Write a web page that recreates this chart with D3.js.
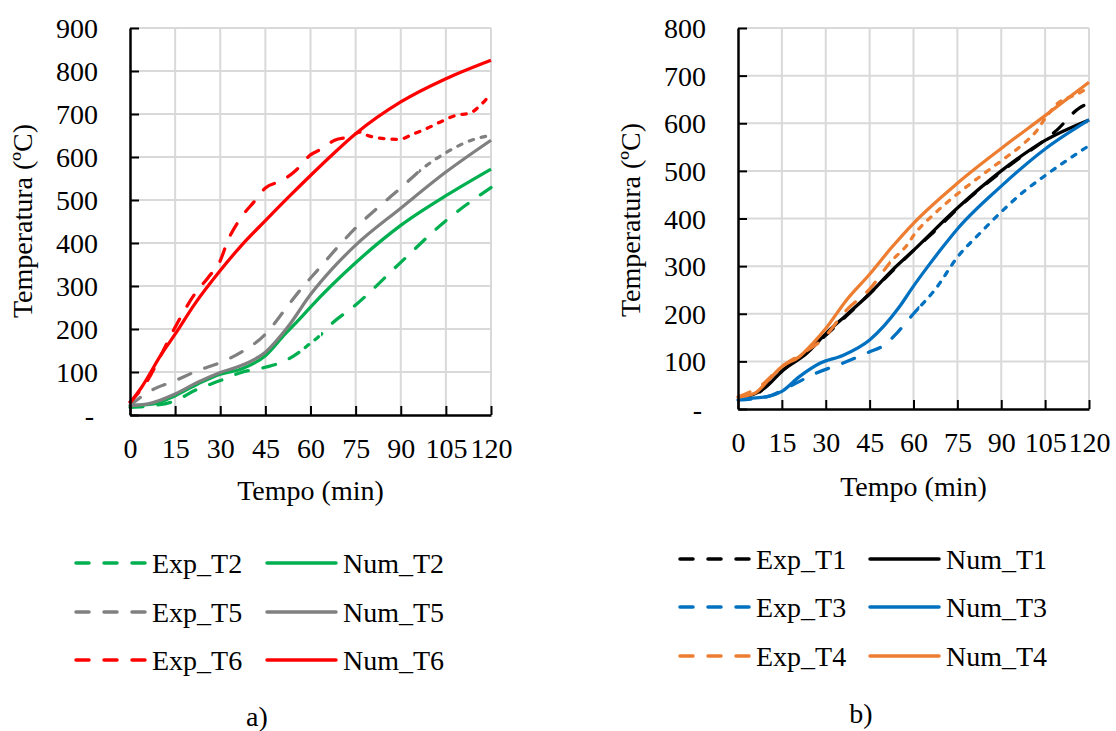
<!DOCTYPE html>
<html>
<head>
<meta charset="utf-8">
<script src="https://cdn.jsdelivr.net/npm/d3@7"></script>
<style>
  html, body { margin: 0; padding: 0; background: #fff; }
  svg { display: block; }
  text { font-family: "Liberation Serif", "Times New Roman", serif; fill: #000; }
</style>
</head>
<body>
<svg id="chart" width="1116" height="731"></svg>
<script>
// ---------- DATA ----------
const xTicks = [0, 15, 30, 45, 60, 75, 90, 105, 120];
const yTicksA = [0, 100, 200, 300, 400, 500, 600, 700, 800, 900];
const yTicksB = [0, 100, 200, 300, 400, 500, 600, 700, 800];

// Chart a)
const expT2_t = [0, 8, 15, 21.5, 30, 37, 45, 51.5, 57, 60, 62.5, 67, 75, 90, 105, 120];
const expT2_v = [18, 22, 33, 57, 80, 99, 111, 126, 150, 167, 181, 212, 256, 355, 452, 529];
const numT2_t = [0, 8, 15, 22.5, 30, 37, 45, 51.5, 56.5, 60, 75, 90, 105, 120];
const numT2_v = [22, 26, 45, 72, 95, 107, 138, 188, 224, 251, 354, 441, 510, 572];
const expT5_t = [0, 6, 15, 22.5, 30, 37, 45, 51.5, 56.5, 63, 70, 75, 84, 90, 96.5, 105, 112, 120];
const expT5_v = [22, 53, 80, 103, 122, 146, 188, 245, 290, 342, 398, 435, 492, 528, 569, 610, 635, 651];
const numT5_t = [0, 6, 15, 22.5, 30, 37, 45, 52.5, 60, 67.5, 75, 90, 105, 120];
const numT5_v = [22, 26, 49, 76, 99, 115, 146, 205, 280, 342, 395, 481, 565, 639];
const expT6_t = [0, 2.5, 5.8, 10.5, 15, 21.5, 26, 30, 32.5, 37, 41.5, 45, 50.5, 55, 60, 64, 68, 73.5, 76.5, 79, 83, 89.5, 94, 98.6, 103, 108.5, 113, 117, 120];
const expT6_v = [30, 49, 80, 142, 204, 281, 320, 359, 405, 460, 498, 528, 545, 568, 605, 620, 639, 648, 658, 650, 644, 641, 653, 666, 681, 697, 702, 724, 747];
const numT6_t = [0, 3.8, 10.5, 15, 21.5, 30, 37, 45, 52.6, 60, 67.5, 75, 90, 105, 120];
const numT6_v = [28, 64, 142, 188, 258, 336, 394, 452, 506, 557, 607, 654, 728, 782, 825];

// Chart b)
const expT1_t = [7.5, 16, 23.5, 30, 37, 45, 52.5, 60, 67.5, 75, 90, 97, 103.2, 108.9, 116.9, 120];
const expT1_v = [36, 85, 120, 155, 195, 242, 288, 333, 375, 420, 498, 530, 557, 585, 633, 642];
const numT1_t = [0, 5, 8.7, 15.5, 23.5, 30.3, 37, 45, 52.5, 60, 75, 90, 105, 120];
const numT1_v = [25, 30, 42, 82, 117, 160, 197, 242, 290, 333, 422, 500, 564, 607];
const expT3_t = [0, 10, 17.5, 26.6, 35.7, 45, 50, 54.4, 60, 67.4, 75.3, 82.7, 90.2, 97.6, 105.2, 112.4, 120];
const expT3_v = [19, 26, 47, 75, 96, 120, 134, 160, 200, 251, 321, 369, 415, 456, 491, 522, 553];
const numT3_t = [0, 10, 15, 21, 28, 36, 45, 50, 55, 60, 65, 70, 75, 90, 105, 120];
const numT3_v = [21, 26, 37, 68, 96, 113, 145, 175, 213, 258, 300, 340, 378, 468, 546, 607];
const expT4_t = [0, 8, 15, 21, 28.5, 37, 45, 52.5, 58, 60.2, 66.8, 75.3, 82.7, 90.2, 97.6, 102.2, 105.2, 109, 115.9, 120];
const expT4_v = [25, 50, 89, 113, 144, 207, 252, 311, 346, 366, 408, 453, 488, 522, 557, 585, 612, 640, 661, 675];
const numT4_t = [0, 5.7, 10, 15, 21, 25.6, 30, 37, 45, 52.5, 60, 75, 90, 105, 120];
const numT4_v = [25, 33, 58, 89, 110, 138, 169, 228, 283, 339, 390, 474, 547, 616, 686];

// style: where the measured series are drawn with short dashes (dense points)
const seriesA = [
  { name: "Exp_T2", t: expT2_t, v: expT2_v, color: "#00B050", dashed: true, shortRanges: [[55.5, 63.5]] },
  { name: "Num_T2", t: numT2_t, v: numT2_v, color: "#00B050", dashed: false },
  { name: "Exp_T5", t: expT5_t, v: expT5_v, color: "#808080", dashed: true, shortRanges: [[96, 125]] },
  { name: "Num_T5", t: numT5_t, v: numT5_v, color: "#808080", dashed: false },
  { name: "Exp_T6", t: expT6_t, v: expT6_v, color: "#FF0000", dashed: true, shortRanges: [[74, 125]] },
  { name: "Num_T6", t: numT6_t, v: numT6_v, color: "#FF0000", dashed: false }
];
const seriesB = [
  { name: "Exp_T1", t: expT1_t, v: expT1_v, color: "#000000", dashed: true, shortRanges: [] },
  { name: "Num_T1", t: numT1_t, v: numT1_v, color: "#000000", dashed: false },
  { name: "Exp_T3", t: expT3_t, v: expT3_v, color: "#0070C0", dashed: true, shortRanges: [[62, 125]] },
  { name: "Num_T3", t: numT3_t, v: numT3_v, color: "#0070C0", dashed: false },
  { name: "Exp_T4", t: expT4_t, v: expT4_v, color: "#ED7D31", dashed: true, shortRanges: [[52, 125]] },
  { name: "Num_T4", t: numT4_t, v: numT4_v, color: "#ED7D31", dashed: false }
];

// ---------- DRAW ----------
const svg = d3.select("#chart");
const defs = svg.append("defs");
const FONT = 28;
const LW = 3.25;
const DASH = "13,15";
const SHORT_DASH = "4.5,8";
let clipId = 0;

function drawChart(cfg) {
  const g = svg.append("g");
  const x = d3.scaleLinear().domain([0, 120]).range([cfg.x0, cfg.x1]);
  const y = d3.scaleLinear().domain([0, cfg.ymax]).range([cfg.y0, cfg.y1]);

  // gridlines
  g.append("g").selectAll("line").data(cfg.yTicks.filter(d => d > 0)).join("line")
    .attr("x1", cfg.x0).attr("x2", cfg.x1)
    .attr("y1", d => y(d)).attr("y2", d => y(d))
    .attr("stroke", "#d9d9d9").attr("stroke-width", 2);
  g.append("g").selectAll("line").data(xTicks.filter(d => d > 0)).join("line")
    .attr("x1", d => x(d)).attr("x2", d => x(d))
    .attr("y1", cfg.y0).attr("y2", cfg.y1)
    .attr("stroke", "#d9d9d9").attr("stroke-width", 2);

  // series
  const line = d3.line().x(d => x(d[0])).y(d => y(d[1])).curve(d3.curveMonotoneX);
  function clipFor(a, b) {
    const id = "clip" + (clipId++);
    defs.append("clipPath").attr("id", id).append("rect")
      .attr("x", x(a)).attr("width", x(b) - x(a)).attr("y", 0).attr("height", 731);
    return `url(#${id})`;
  }
  cfg.series.forEach(s => {
    const pts = s.t.map((t, i) => [t, s.v[i]]);
    if (!s.dashed) {
      g.append("path").datum(pts).attr("d", line)
        .attr("fill", "none").attr("stroke", s.color).attr("stroke-width", LW)
        .attr("stroke-linejoin", "round");
      return;
    }
    const ranges = [];
    let cur = -5;
    s.shortRanges.forEach(r => {
      if (r[0] > cur) ranges.push([cur, r[0], DASH]);
      ranges.push([r[0], r[1], SHORT_DASH]);
      cur = r[1];
    });
    if (cur < 125) ranges.push([cur, 125, DASH]);
    ranges.forEach(r => {
      g.append("path").datum(pts).attr("d", line)
        .attr("clip-path", clipFor(r[0], r[1]))
        .attr("fill", "none").attr("stroke", s.color).attr("stroke-width", LW)
        .attr("stroke-linecap", "round").attr("stroke-linejoin", "round")
        .attr("stroke-dasharray", r[2]);
    });
  });

  // axes
  const xAxis = d3.axisBottom(x).tickValues(xTicks).tickSizeInner(-9).tickSizeOuter(0).tickPadding(0)
    .tickFormat(d3.format("d"));
  const gx = g.append("g").attr("transform", `translate(0,${cfg.y0})`).call(xAxis);
  gx.select(".domain").attr("stroke", "#000").attr("stroke-width", 2.5);
  gx.selectAll(".tick line").attr("stroke", "#000").attr("stroke-width", 2);
  gx.selectAll(".tick text").attr("y", 43).attr("dy", null)
    .style("font-size", FONT + "px").style("font-family", "'Liberation Serif', serif").attr("fill", "#000");

  const yAxis = d3.axisLeft(y).tickValues(cfg.yTicks).tickSizeInner(-9).tickSizeOuter(0).tickPadding(0)
    .tickFormat(d => d === 0 ? "-" : d3.format("d")(d));
  const gy = g.append("g").attr("transform", `translate(${cfg.x0},0)`).call(yAxis);
  gy.select(".domain").attr("stroke", "#000").attr("stroke-width", 2.5);
  gy.selectAll(".tick line").attr("stroke", "#000").attr("stroke-width", 2);
  gy.selectAll(".tick text").attr("x", d => d === 0 ? -36 : -32).attr("dy", "0.34em")
    .style("font-size", FONT + "px").style("font-family", "'Liberation Serif', serif").attr("fill", "#000");

  // axis titles
  g.append("text").attr("x", (cfg.x0 + cfg.x1) / 2).attr("y", cfg.xTitleY)
    .attr("text-anchor", "middle").style("font-size", FONT + "px").text("Tempo (min)");
  g.append("text")
    .attr("transform", `translate(${cfg.yTitleX},${cfg.yTitleY}) rotate(-90)`)
    .attr("text-anchor", "middle").style("font-size", FONT + "px").text("Temperatura (ºC)");

  // legend
  const lg = g.append("g");
  cfg.series.forEach((s, i) => {
    const row = Math.floor(i / 2), col = i % 2;
    const ly = cfg.legY[row];
    const lx0 = cfg.legX[col];
    lg.append("line")
      .attr("x1", lx0).attr("x2", lx0 + 69).attr("y1", ly).attr("y2", ly)
      .attr("stroke", s.color).attr("stroke-width", 3.5)
      .attr("stroke-linecap", "round")
      .attr("stroke-dasharray", s.dashed ? DASH : null);
    lg.append("text").attr("x", lx0 + 76).attr("y", ly + 10)
      .style("font-size", FONT + "px").text(s.name);
  });

  // panel label
  g.append("text").attr("x", cfg.labX).attr("y", cfg.labY)
    .attr("text-anchor", "middle").style("font-size", FONT + "px").text(cfg.label);
}

drawChart({
  x0: 130, x1: 491, y0: 415, y1: 28, ymax: 900, yTicks: yTicksA, series: seriesA,
  xTitleY: 500, yTitleX: 32, yTitleY: 221,
  legX: [76, 267], legY: [563, 612, 660],
  label: "a)", labX: 257, labY: 726
});
drawChart({
  x0: 738, x1: 1089, y0: 409, y1: 28, ymax: 800, yTicks: yTicksB, series: seriesB,
  xTitleY: 496, yTitleX: 640, yTitleY: 220,
  legX: [680, 870], legY: [559, 607, 656],
  label: "b)", labX: 861, labY: 723
});
</script>
</body>
</html>
